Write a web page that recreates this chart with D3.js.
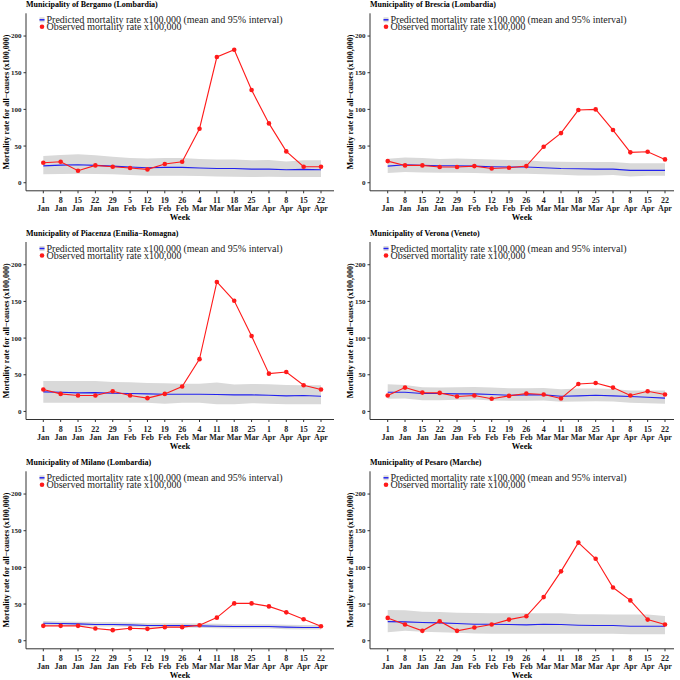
<!DOCTYPE html>
<html>
<head>
<meta charset="utf-8">
<script src="https://cdn.jsdelivr.net/npm/d3@7"></script>
<style>
  html, body { margin: 0; padding: 0; background: #fff; }
  svg { display: block; }
</style>
</head>
<body>
<div id="chart"></div>
<script>
// Week labels (two-line ticks)
const weekDays = ['1', '8', '15', '22', '29', '5', '12', '19', '26', '4', '11', '18', '25', '1', '8', '15', '22'];
const weekMonths = ['Jan', 'Jan', 'Jan', 'Jan', 'Jan', 'Feb', 'Feb', 'Feb', 'Feb', 'Mar', 'Mar', 'Mar', 'Mar', 'Apr', 'Apr', 'Apr', 'Apr'];
const yTicks = [0, 50, 100, 150, 200];

const titles = [
    'Municipality of Bergamo (Lombardia)',
    'Municipality of Brescia (Lombardia)',
    'Municipality of Piacenza (Emilia\u2212Romagna)',
    'Municipality of Verona (Veneto)',
    'Municipality of Milano (Lombardia)',
    'Municipality of Pesaro (Marche)'
];

// Observed mortality rate x100,000
const observedBergamo = [27.3, 28.6, 16.4, 23.6, 21.8, 20.0, 18.2, 25.5, 28.6, 73.6, 171.4, 181.4, 126.4, 80.9, 42.7, 21.8, 21.8];
const observedBrescia = [29.5, 23.6, 23.6, 21.4, 21.4, 22.7, 19.5, 20.5, 22.7, 49.1, 67.7, 99.1, 100.0, 71.8, 41.4, 42.3, 31.8];
const observedPiacenza = [29.8, 23.9, 21.7, 21.7, 27.5, 21.7, 18.1, 23.9, 33.9, 71.3, 176.5, 150.8, 102.9, 51.5, 53.7, 35.7, 29.8];
const observedVerona = [21.7, 32.5, 25.7, 25.3, 20.3, 21.7, 17.2, 21.2, 24.4, 23.0, 17.6, 37.5, 38.8, 32.5, 21.7, 27.5, 23.0];
const observedMilano = [20.3, 20.3, 20.3, 16.7, 14.4, 17.1, 16.2, 18.5, 18.5, 21.2, 31.5, 50.9, 50.9, 46.8, 38.7, 29.3, 19.8];
const observedPesaro = [31.1, 22.1, 13.5, 26.6, 13.5, 18.0, 22.1, 28.8, 33.3, 59.5, 94.6, 133.8, 111.7, 72.5, 55.0, 28.8, 22.1];

// Predicted mean
const meanBergamo = [23.0, 24.0, 24.5, 23.6, 22.7, 21.4, 20.5, 21.0, 21.0, 20.0, 19.5, 19.5, 18.6, 18.6, 17.7, 18.2, 17.7];
const meanBrescia = [22.7, 24.5, 23.6, 23.2, 23.2, 22.7, 21.8, 21.4, 21.4, 20.5, 19.5, 19.1, 18.6, 18.6, 16.8, 16.8, 16.8];
const meanPiacenza = [26.6, 26.2, 25.3, 25.7, 24.8, 24.4, 23.9, 23.5, 23.5, 23.5, 23.0, 22.6, 22.6, 22.1, 21.2, 21.7, 20.8];
const meanVerona = [26.2, 26.2, 24.4, 24.4, 23.9, 23.9, 23.0, 22.1, 22.6, 22.6, 20.8, 21.2, 22.1, 21.2, 20.3, 19.4, 18.1];
const meanMilano = [23.9, 23.4, 23.0, 22.1, 22.1, 21.6, 20.7, 20.7, 20.7, 20.3, 19.8, 19.4, 19.4, 19.4, 18.5, 18.0, 18.0];
const meanPesaro = [26.1, 25.7, 24.8, 24.3, 23.4, 22.5, 22.5, 22.1, 21.6, 22.5, 22.1, 21.2, 20.7, 20.7, 19.8, 19.8, 19.8];

// 95% interval upper bound
const upperBergamo = [36.4, 37.7, 39.0, 37.3, 35.5, 33.6, 33.2, 33.6, 33.6, 32.3, 31.8, 31.8, 30.5, 30.9, 29.0, 30.5, 30.5];
const upperBrescia = [32.7, 34.5, 33.6, 32.3, 33.2, 32.3, 31.8, 30.9, 30.5, 29.0, 28.6, 28.2, 28.2, 28.2, 26.4, 26.4, 26.4];
const upperPiacenza = [41.5, 41.5, 41.5, 41.5, 40.2, 39.7, 38.8, 38.4, 37.9, 37.9, 39.3, 36.6, 37.5, 37.0, 36.1, 35.7, 35.7];
const upperVerona = [37.0, 36.1, 33.0, 32.5, 33.0, 33.4, 32.5, 31.6, 31.6, 32.1, 30.2, 31.2, 31.2, 30.7, 28.4, 28.4, 28.4];
const upperMilano = [26.8, 26.3, 25.9, 25.4, 25.4, 24.9, 24.0, 24.0, 24.0, 23.5, 23.1, 22.6, 22.6, 22.6, 21.8, 21.3, 21.3];
const upperPesaro = [41.9, 41.4, 39.6, 39.2, 38.3, 37.8, 37.4, 37.4, 37.4, 37.4, 37.4, 36.0, 36.0, 35.6, 35.6, 35.6, 33.8];

// 95% interval lower bound
const lowerBergamo = [11.4, 11.8, 12.3, 11.8, 11.4, 10.5, 9.5, 9.5, 9.5, 9.1, 8.6, 8.2, 7.7, 8.2, 7.7, 7.7, 7.7];
const lowerBrescia = [13.2, 14.5, 14.1, 13.6, 13.6, 13.2, 12.7, 12.3, 12.3, 11.4, 10.9, 10.0, 10.0, 10.5, 8.6, 9.5, 9.5];
const lowerPiacenza = [11.7, 11.7, 11.7, 11.7, 11.7, 11.7, 11.7, 10.4, 11.7, 11.7, 9.9, 9.9, 11.3, 10.4, 9.9, 9.9, 9.9];
const lowerVerona = [17.2, 17.6, 15.3, 15.3, 15.8, 16.3, 14.9, 14.4, 14.4, 14.9, 13.1, 13.5, 14.0, 13.5, 11.7, 11.3, 10.4];
const lowerMilano = [21.0, 20.6, 20.2, 19.3, 19.3, 18.9, 18.0, 18.0, 18.0, 17.6, 17.1, 16.7, 16.7, 16.7, 15.8, 15.3, 15.3];
const lowerPesaro = [11.7, 13.5, 12.2, 11.7, 10.8, 9.9, 9.5, 9.5, 9.5, 9.5, 9.5, 9.5, 9.5, 9.5, 9.0, 9.0, 9.0];

const observedAll = [observedBergamo, observedBrescia, observedPiacenza, observedVerona, observedMilano, observedPesaro];
const meanAll = [meanBergamo, meanBrescia, meanPiacenza, meanVerona, meanMilano, meanPesaro];
const upperAll = [upperBergamo, upperBrescia, upperPiacenza, upperVerona, upperMilano, upperPesaro];
const lowerAll = [lowerBergamo, lowerBrescia, lowerPiacenza, lowerVerona, lowerMilano, lowerPesaro];

const width = 680, height = 680;
const font = '"Liberation Serif", "Times New Roman", serif';
const axisColour = '#333';
const bandColour = '#d9d9d9';
const blue = '#2222ee';
const red = '#ff1a1a';

// Panel geometry
const cols = [
    { left: 26, right: 334, first: 43.3, last: 321, yTitleX: 6 },
    { left: 370, right: 674, first: 387.7, last: 665, yTitleX: 350 }
];
const rowTops = [13.3, 242, 471.3];
const plotH = 177.5;

const svg = d3.select('#chart')
    .append('svg')
    .attr('width', width)
    .attr('height', height)
    .style('font-family', font);

const idx = d3.range(weekDays.length);

titles.forEach((title, p) => {
    const col = cols[p % 2];
    const top = rowTops[Math.floor(p / 2)];
    const bottom = top + plotH;

    const x = d3.scalePoint().domain(idx).range([col.first, col.last]);
    const y = d3.scaleLinear().domain([-11, 231]).range([bottom, top]);

    const g = svg.append('g');

    const rows = idx.map(i => ({
        i,
        obs: observedAll[p][i],
        mean: meanAll[p][i],
        hi: upperAll[p][i],
        lo: lowerAll[p][i]
    }));

    // Ribbon (95% interval)
    g.append('path')
        .datum(rows)
        .attr('fill', bandColour)
        .attr('d', d3.area().x(d => x(d.i)).y0(d => y(d.lo)).y1(d => y(d.hi)));

    // Predicted mean
    g.append('path')
        .datum(rows)
        .attr('fill', 'none')
        .attr('stroke', blue)
        .attr('stroke-width', 1.1)
        .attr('d', d3.line().x(d => x(d.i)).y(d => y(d.mean)));

    // Observed
    g.append('path')
        .datum(rows)
        .attr('fill', 'none')
        .attr('stroke', red)
        .attr('stroke-width', 1.1)
        .attr('d', d3.line().x(d => x(d.i)).y(d => y(d.obs)));

    g.selectAll('circle.obs')
        .data(rows)
        .join('circle')
        .attr('class', 'obs')
        .attr('cx', d => x(d.i))
        .attr('cy', d => y(d.obs))
        .attr('r', 2.3)
        .attr('fill', red);

    // Axis lines
    g.append('line')
        .attr('x1', col.left).attr('x2', col.left)
        .attr('y1', top).attr('y2', bottom)
        .attr('stroke', axisColour).attr('stroke-width', 1);
    g.append('line')
        .attr('x1', col.left).attr('x2', col.right)
        .attr('y1', bottom).attr('y2', bottom)
        .attr('stroke', axisColour).attr('stroke-width', 1);

    // Y ticks
    const yt = g.append('g');
    yTicks.forEach(t => {
        yt.append('line')
            .attr('x1', col.left - 2.5).attr('x2', col.left)
            .attr('y1', y(t)).attr('y2', y(t))
            .attr('stroke', axisColour);
        yt.append('text')
            .attr('x', col.left - 4.5)
            .attr('y', y(t))
            .attr('dy', '0.35em')
            .attr('text-anchor', 'end')
            .attr('font-size', 7)
            .attr('font-weight', 'bold')
            .attr('fill', '#222')
            .text(t);
    });

    // X ticks
    const xt = g.append('g');
    idx.forEach(i => {
        xt.append('line')
            .attr('x1', x(i)).attr('x2', x(i))
            .attr('y1', bottom).attr('y2', bottom + 2.5)
            .attr('stroke', axisColour);
        const t = xt.append('text')
            .attr('x', x(i))
            .attr('text-anchor', 'middle')
            .attr('font-size', 8)
            .attr('font-weight', 'bold')
            .attr('fill', '#222');
        t.append('tspan').attr('x', x(i)).attr('y', bottom + 12).text(weekDays[i]);
        t.append('tspan').attr('x', x(i)).attr('y', bottom + 20.5).text(weekMonths[i]);
    });

    // Axis titles
    g.append('text')
        .attr('x', (col.left + col.right) / 2)
        .attr('y', bottom + 29.5)
        .attr('text-anchor', 'middle')
        .attr('font-size', 8.5)
        .attr('font-weight', 'bold')
        .text('Week');

    g.append('text')
        .attr('transform', `translate(${col.yTitleX + 3},${(top + bottom) / 2}) rotate(-90)`)
        .attr('text-anchor', 'middle')
        .attr('font-size', 8)
        .attr('font-weight', 'bold')
        .text('Mortality rate for all\u2212causes (x100,000)');

    // Panel title
    g.append('text')
        .attr('x', col.left)
        .attr('y', top - 6)
        .attr('font-size', 8)
        .attr('font-weight', 'bold')
        .text(title);

    // Legend (top-left inside the panel)
    const lx = col.left + 16;
    const ly1 = top + 6.5;
    const ly2 = ly1 + 7;
    g.append('rect')
        .attr('x', lx - 2.5).attr('y', ly1 - 2.5)
        .attr('width', 5).attr('height', 5)
        .attr('fill', bandColour);
    g.append('line')
        .attr('x1', lx - 2.5).attr('x2', lx + 2.5)
        .attr('y1', ly1).attr('y2', ly1)
        .attr('stroke', blue).attr('stroke-width', 1.5);
    g.append('circle')
        .attr('cx', lx).attr('cy', ly2).attr('r', 2.3)
        .attr('fill', red);
    g.append('text')
        .attr('x', lx + 4.5).attr('y', ly1).attr('dy', '0.35em')
        .attr('font-size', 10)
        .attr('fill', '#222')
        .text('Predicted mortality rate x100,000 (mean and 95% interval)');
    g.append('text')
        .attr('x', lx + 4.5).attr('y', ly2).attr('dy', '0.35em')
        .attr('font-size', 10)
        .attr('fill', '#222')
        .text('Observed mortality rate x100,000');
});
</script>
</body>
</html>
